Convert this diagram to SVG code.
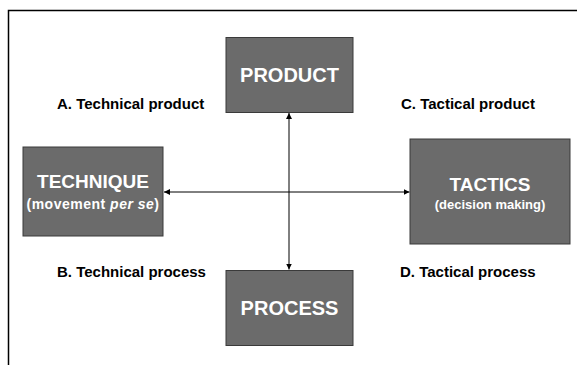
<svg xmlns="http://www.w3.org/2000/svg" width="577" height="365" viewBox="0 0 577 365">
<style>
.box{fill:#6b6b6b;stroke:#3a3a3a;stroke-width:1}
.title{font-family:"Liberation Sans",Arial,sans-serif;font-weight:bold;fill:#ffffff;text-anchor:middle}
.lbl{font-family:"Liberation Sans",Arial,sans-serif;font-weight:bold;font-size:15px;fill:#000000}
.con{stroke:#000000;stroke-width:1;fill:none}
</style>
<defs>
<marker id="ah" viewBox="0 0 8 8" refX="8" refY="4" markerWidth="6" markerHeight="6" orient="auto" markerUnits="userSpaceOnUse">
<path d="M0,0 L8,4 L0,8 Z" fill="#000000"/>
</marker>
</defs>
<rect width="577" height="365" fill="#ffffff"/>
<path d="M8.5,365 L8.5,10.5 L577,10.5" fill="none" stroke="#000000" stroke-width="1.5"/>
<g id="connectors">
<line class="con" x1="289" y1="192" x2="289" y2="113" marker-end="url(#ah)"/>
<line class="con" x1="289" y1="192" x2="289" y2="269.5" marker-end="url(#ah)"/>
<line class="con" x1="327" y1="192" x2="164" y2="192" marker-end="url(#ah)"/>
<line class="con" x1="327" y1="192" x2="409.5" y2="192" stroke-width="2" marker-end="url(#ah)"/>
</g>
<g id="product">
<rect class="box" x="226" y="37.5" width="127" height="75"/>
<text class="title" x="289.5" y="82" font-size="20">PRODUCT</text>
</g>
<g id="technique">
<rect class="box" x="23" y="147" width="140" height="89"/>
<text class="title" x="93" y="188" font-size="19">TECHNIQUE</text>
<text class="title" x="93" y="209" font-size="14" letter-spacing="0.5">(movement <tspan font-style="italic">per se</tspan>)</text>
</g>
<g id="tactics">
<rect class="box" x="410" y="139" width="160" height="105"/>
<text class="title" x="490" y="191" font-size="19">TACTICS</text>
<text class="title" x="490" y="209" font-size="13">(decision making)</text>
</g>
<g id="process">
<rect class="box" x="226" y="270.5" width="127" height="75"/>
<text class="title" x="289.5" y="315" font-size="20">PROCESS</text>
</g>
<g id="labels">
<text class="lbl" x="57" y="109">A. Technical product</text>
<text class="lbl" x="401" y="109">C. Tactical product</text>
<text class="lbl" x="57" y="277">B. Technical process</text>
<text class="lbl" x="400" y="277">D. Tactical process</text>
</g>
</svg>
